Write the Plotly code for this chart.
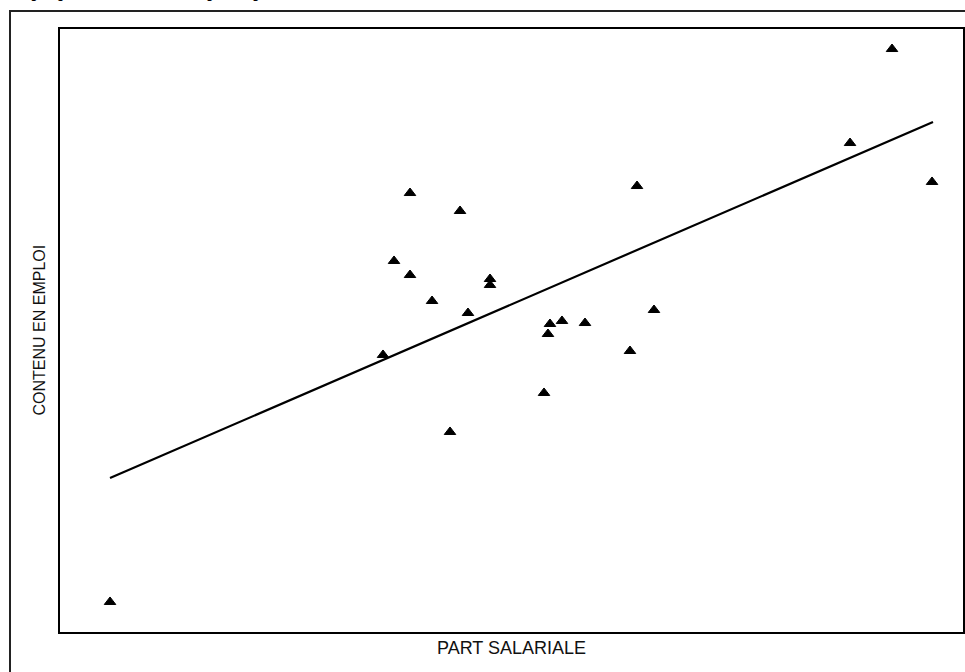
import plotly.graph_objects as go

# Scatter data (arbitrary units, 0-100 scale on both axes)
part_salariale = [5.54, 35.77, 36.99, 38.76, 38.76, 41.20, 43.19, 44.30, 45.18, 47.62, 47.62,
                  53.60, 54.04, 54.26, 55.59, 58.14, 63.12, 63.90, 65.78, 87.49, 92.14, 96.57]
contenu_emploi = [4.98, 45.94, 61.53, 72.80, 59.20, 54.89, 33.17, 69.82, 52.90, 58.54, 57.55,
                  39.64, 49.42, 51.08, 51.58, 51.24, 46.60, 73.96, 53.40, 81.09, 96.68, 74.63]

# Fitted line end points
fit_x = [5.54, 96.68]
fit_y = [25.54, 84.58]

title_text = "Graphique 4 : Contenu en emploi et part salariale"
x_title = "PART SALARIALE"
y_title = "CONTENU EN EMPLOI"

fig = go.Figure()
fig.add_trace(go.Scatter(x=fit_x, y=fit_y, mode="lines",
                         line=dict(color="black", width=2.2), showlegend=False, hoverinfo="skip"))
fig.add_trace(go.Scatter(x=part_salariale, y=contenu_emploi, mode="markers",
                         marker=dict(symbol="triangle-up", size=10, color="black",
                                     line=dict(color="black", width=1)),
                         showlegend=False))

axis_common = dict(showgrid=False, zeroline=False, showticklabels=False, ticks="",
                   showline=True, mirror=True, linecolor="black", linewidth=2)

fig.update_layout(
    width=965, height=672,
    margin=dict(l=60, r=2, t=29, b=40, autoexpand=False),
    paper_bgcolor="white", plot_bgcolor="white",
    xaxis=dict(range=[0, 100], **axis_common),
    yaxis=dict(range=[0, 100], **axis_common),
    font=dict(family="Liberation Sans, Arial, sans-serif", color="#111"),
    shapes=[dict(type="rect", xref="paper", yref="paper",
                 x0=(10 - 60) / 903, x1=1.2, y0=-0.3, y1=(632 - 11) / 603,
                 line=dict(color="#222", width=2), fillcolor="rgba(0,0,0,0)", layer="below")],
    annotations=[
        dict(text=x_title, xref="paper", yref="paper", x=0.5, y=(632 - 648) / 603,
             xanchor="center", yanchor="middle", showarrow=False,
             font=dict(size=18, family="Liberation Sans, Arial, sans-serif", color="#111")),
        dict(text=y_title, xref="paper", yref="paper", x=(39 - 60) / 903, y=0.5,
             xanchor="center", yanchor="middle", textangle=-90, showarrow=False,
             font=dict(size=16, family="Liberation Sans, Arial, sans-serif", color="#111")),
        dict(text="<b>" + title_text + "</b>", xref="paper", yref="paper",
             x=(2 - 60) / 903, y=(632 + 8.5) / 603, xanchor="left", yanchor="middle",
             showarrow=False,
             font=dict(size=16, family="Liberation Serif, Times New Roman, serif", color="black")),
    ],
)

fig.write_html("out.html", config={"displayModeBar": False},
               post_script="document.body.style.margin='0';document.body.style.padding='0';")
